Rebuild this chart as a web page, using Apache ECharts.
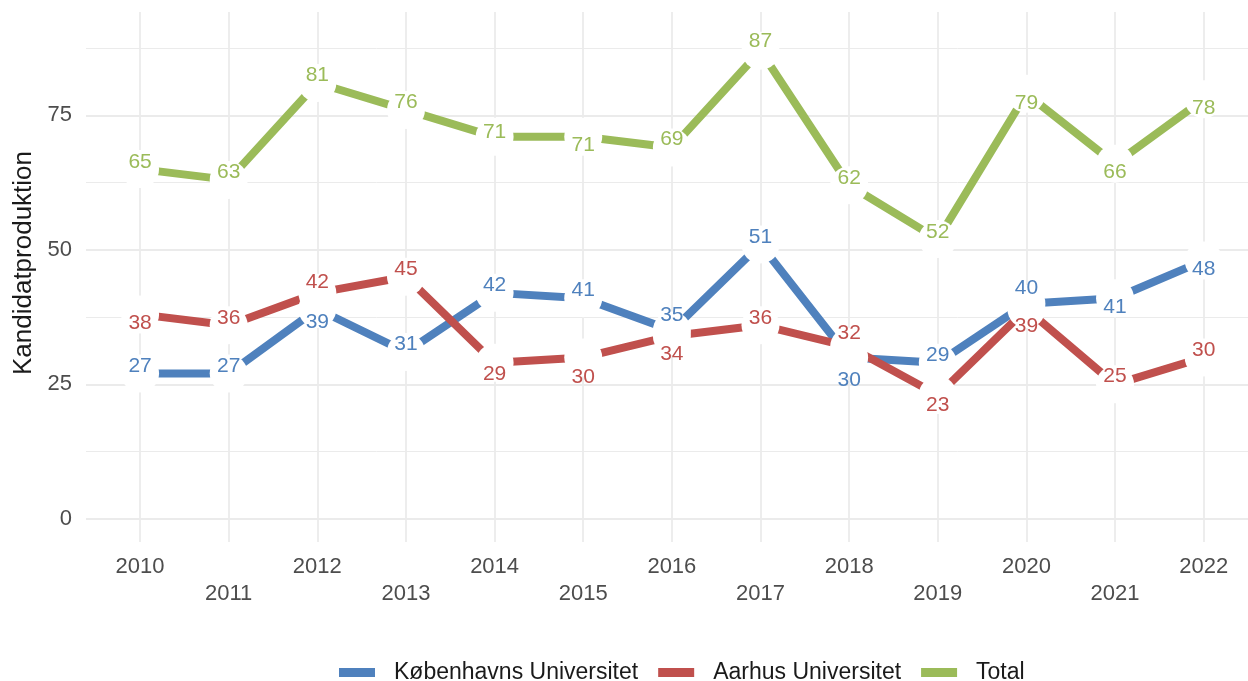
<!DOCTYPE html>
<html>
<head>
<meta charset="utf-8">
<script src="https://cdn.jsdelivr.net/npm/echarts@6/dist/echarts.min.js"></script>
<style>
  html, body { margin: 0; padding: 0; background: #fff; }
  #chart { width: 1248px; height: 681px; }
</style>
</head>
<body>
<div id="chart"></div>
<script>
// data
const years = [2010, 2011, 2012, 2013, 2014, 2015, 2016, 2017, 2018, 2019, 2020, 2021, 2022];
const kuValues = [27, 27, 39, 31, 42, 41, 35, 51, 30, 29, 40, 41, 48];
const auValues = [38, 36, 42, 45, 29, 30, 34, 36, 32, 23, 39, 25, 30];
const totalValues = [65, 63, 81, 76, 71, 71, 69, 87, 62, 52, 79, 66, 78];
const seriesNames = ['Københavns Universitet', 'Aarhus Universitet', 'Total'];
const yMajorTicks = [0, 25, 50, 75];
const yMinorTicks = [12.5, 37.5, 62.5, 87.5];

// label nudges (style only, px) – mimic the repelled text
const kuLabelDy = [-7, -7, 13, -8, -8, -8, -15, -7, 23, -8, -15, 9, 9];
const auLabelDy = [9, -7, -11, -8, 11, 20, 18, -7, -13, 10, 17, -8, -7];
const totalLabelDy = [-7, -8, -8, -8, -5, 8, -8, -10, -7, -7, 9, 8, 9];

const colors = ['#4F81BD', '#C0504D', '#9BBB59'];
const FONT = '"Liberation Sans", Arial, Helvetica, sans-serif';

const chart = echarts.init(document.getElementById('chart'));

function pairs(vals) {
  return vals.map((v, i) => [years[i], v]);
}

function lineSeries(name, vals, color) {
  return {
    name: name,
    type: 'line',
    data: pairs(vals),
    showSymbol: false,
    z: 2,
    lineStyle: { color: color, width: 8, cap: 'butt' },
    itemStyle: { color: color },
    emphasis: { disabled: true },
    animation: false
  };
}

function labelSeries(vals, dys, color) {
  return {
    type: 'scatter',
    z: 5,
    symbol: 'circle',
    symbolSize: 38,
    itemStyle: { color: '#fff', opacity: 1 },
    emphasis: { disabled: true },
    silent: true,
    animation: false,
    data: vals.map((v, i) => ({
      value: [years[i], v],
      label: { offset: [0, dys[i]] }
    })),
    label: {
      show: true,
      position: 'inside',
      formatter: p => p.value[1],
      color: color,
      fontFamily: FONT,
      fontSize: 21
    }
  };
}

const option = {
  backgroundColor: '#fff',
  animation: false,
  grid: [
    { left: 86, right: 0, top: 12, bottom: 139, containLabel: false }
  ],
  xAxis: {
    type: 'value',
    min: 2009.39,
    max: 2022.5,
    axisLine: { show: false },
    axisTick: { show: false, customValues: years },
    axisLabel: {
      customValues: years,
      margin: 11,
      color: '#4d4d4d',
      fontFamily: FONT,
      fontSize: 22,
      lineHeight: 27,
      formatter: v => (v % 2 ? '\n' : '') + v
    },
    splitLine: { show: true, lineStyle: { color: '#ebebeb', width: 1.8 } }
  },
  yAxis: [
    {
      type: 'value',
      min: -4.3,
      max: 94.2,
      name: 'Kandidatproduktion',
      nameLocation: 'middle',
      nameRotate: 90,
      nameGap: 48,
      nameTextStyle: { color: '#1a1a1a', fontFamily: FONT, fontSize: 26, padding: [0, 0, 0, 28] },
      axisLine: { show: false },
      axisTick: { show: false, customValues: yMajorTicks },
      axisLabel: {
        customValues: yMajorTicks,
        margin: 14,
        color: '#4d4d4d',
        fontFamily: FONT,
        fontSize: 22
      },
      splitLine: { show: true, lineStyle: { color: '#ebebeb', width: 1.8 } }
    },
    {
      type: 'value',
      min: -4.3,
      max: 94.2,
      axisLine: { show: false },
      axisTick: { show: false, customValues: yMinorTicks },
      axisLabel: { show: false, customValues: yMinorTicks },
      splitLine: { show: true, lineStyle: { color: '#ebebeb', width: 1 } }
    }
  ],
  legend: {
    top: 656,
    left: 334,
    data: seriesNames,
    icon: 'rect',
    itemWidth: 36,
    itemHeight: 9,
    itemGap: 20,
    textStyle: { color: '#1a1a1a', fontFamily: FONT, fontSize: 23, padding: [0, 0, 0, 14] }
  },
  series: [
    lineSeries(seriesNames[0], kuValues, colors[0]),
    lineSeries(seriesNames[1], auValues, colors[1]),
    lineSeries(seriesNames[2], totalValues, colors[2]),
    labelSeries(kuValues, kuLabelDy, colors[0]),
    labelSeries(auValues, auLabelDy, colors[1]),
    labelSeries(totalValues, totalLabelDy, colors[2])
  ]
};

chart.setOption(option);
</script>
</body>
</html>
